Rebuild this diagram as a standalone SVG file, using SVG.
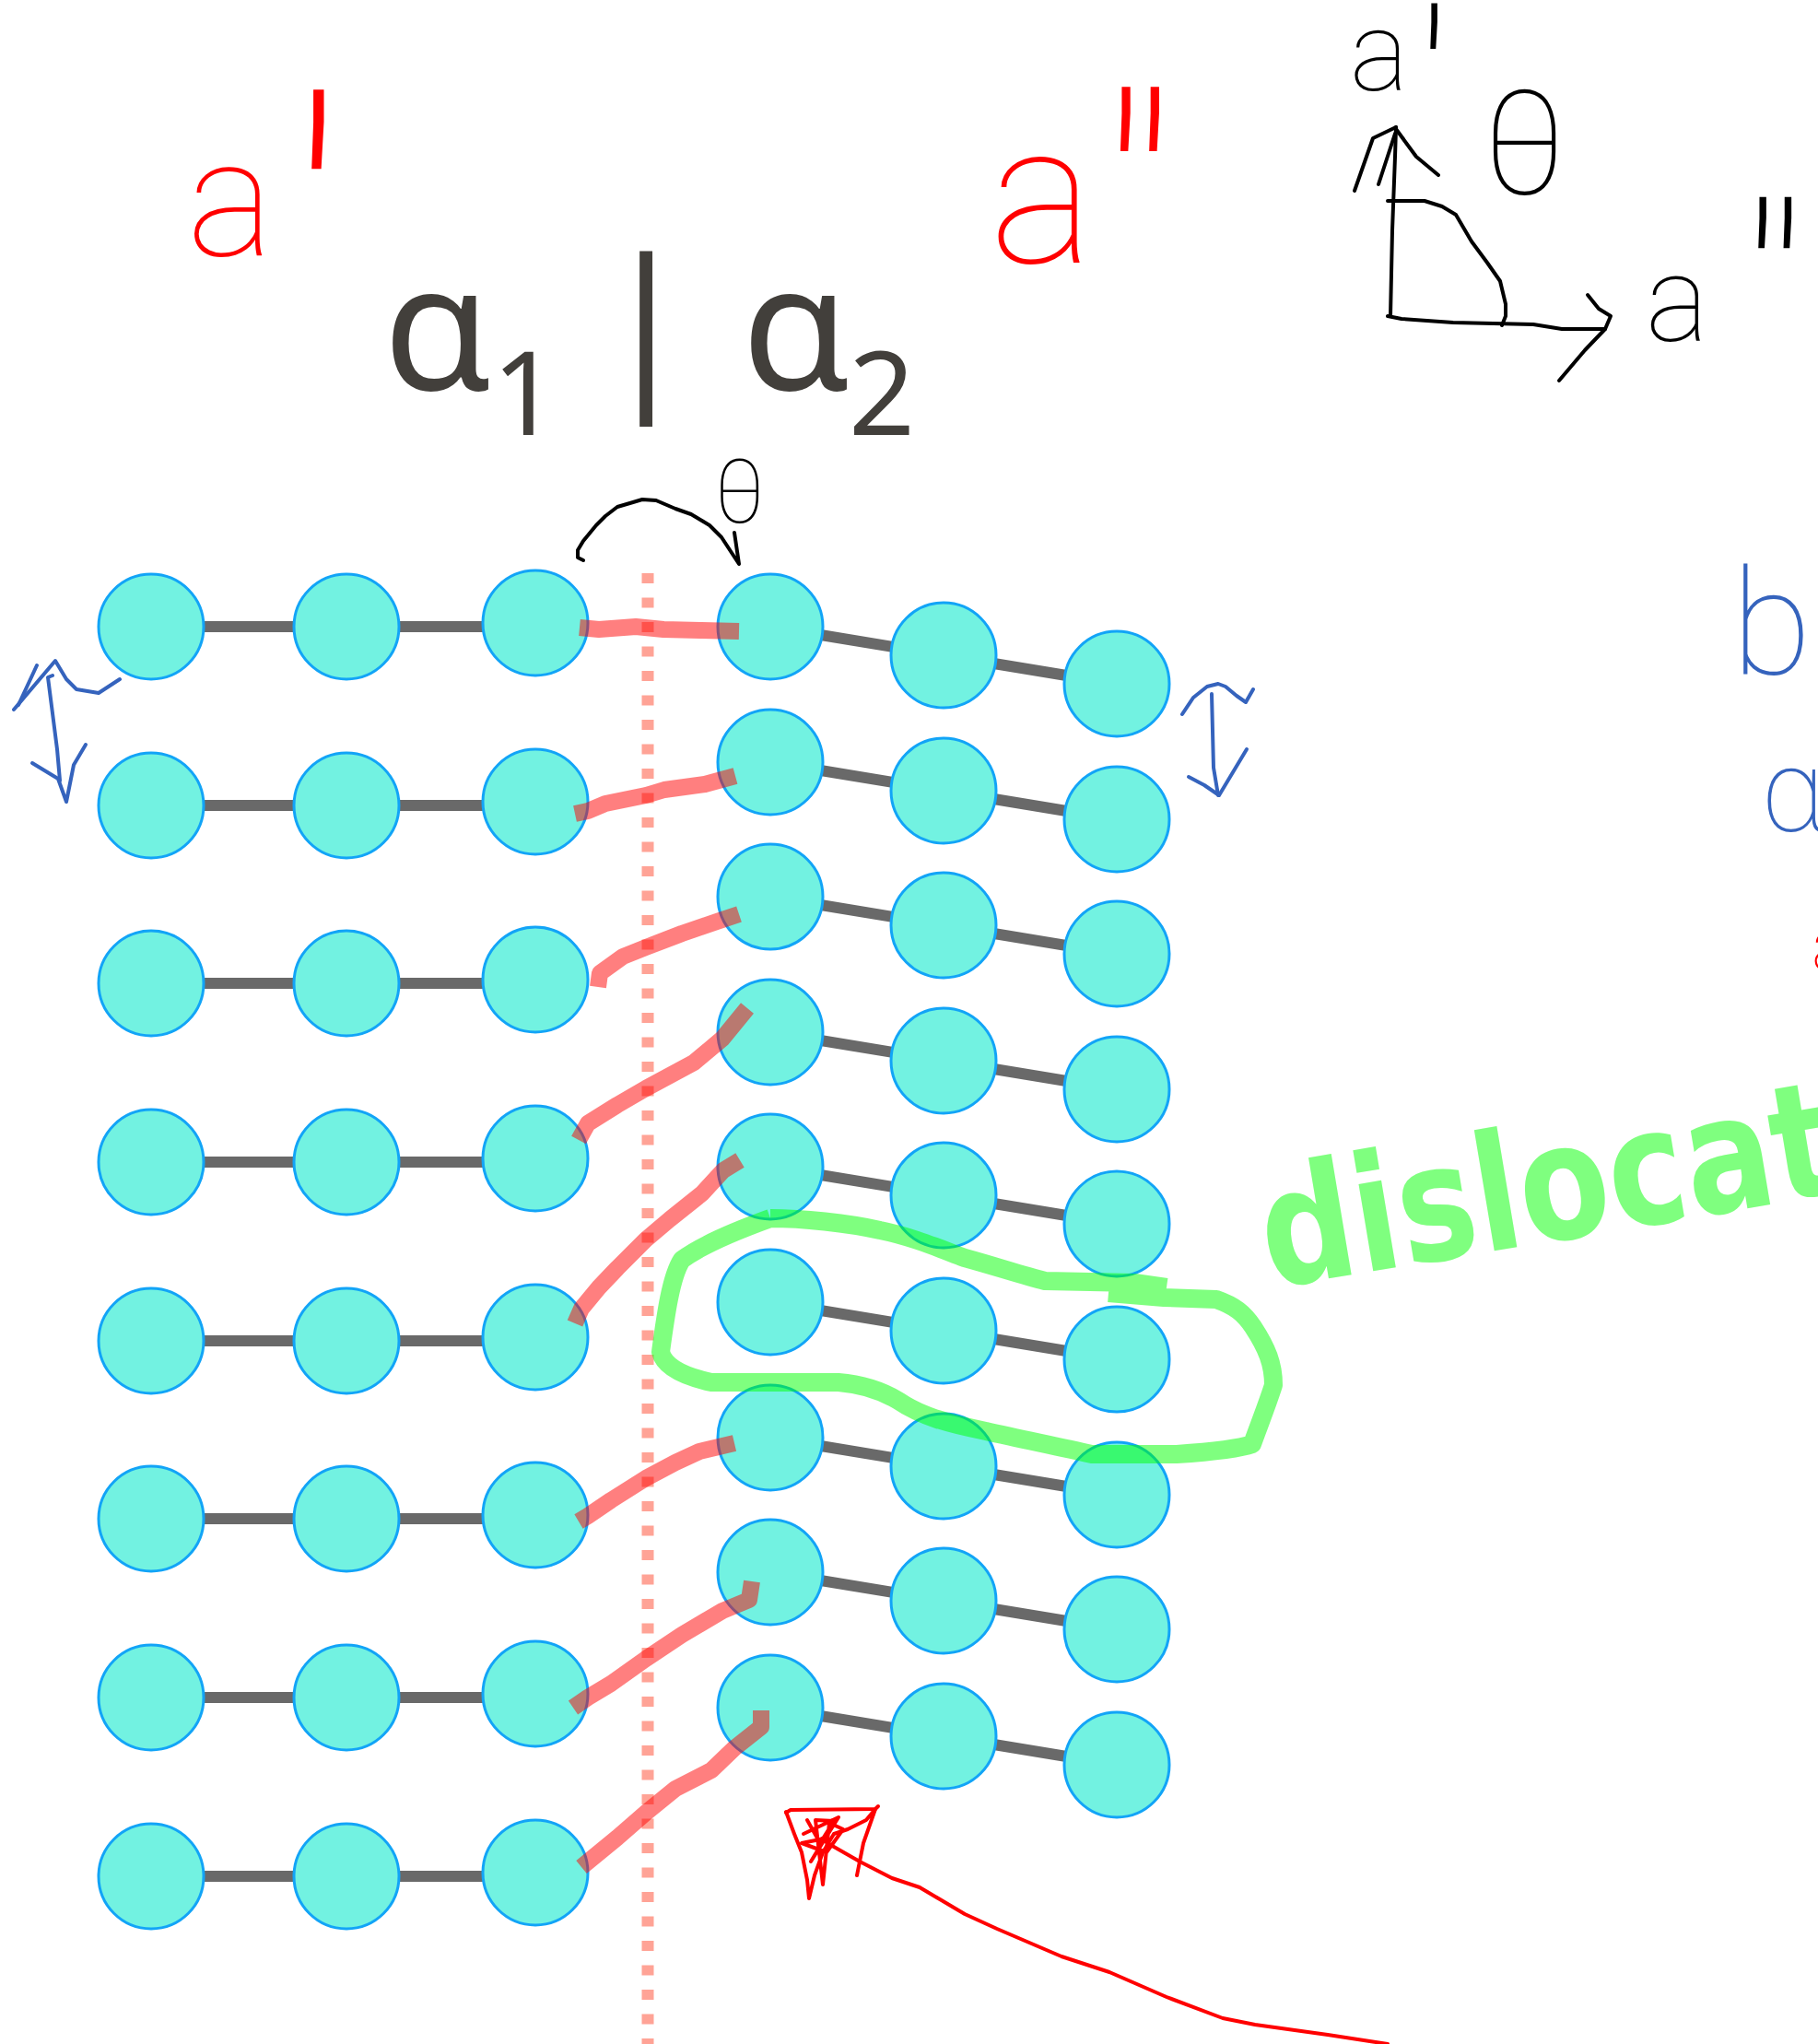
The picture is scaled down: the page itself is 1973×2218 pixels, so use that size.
<svg xmlns="http://www.w3.org/2000/svg" width="1973" height="2218" viewBox="0 0 1973 2218">
<style>
.atom{fill:#72F2E1;stroke:#12A4F7;stroke-width:3}
.bond{stroke:#696969;stroke-width:12;fill:none}
.link{stroke:#FF0000;stroke-opacity:0.5;stroke-width:18;fill:none;stroke-linecap:butt;stroke-linejoin:round}
.title{font-family:"Noto Sans","Open Sans",sans-serif;fill:#423F3B}
.hand{font-family:Roboto,"DejaVu Sans",sans-serif;font-weight:100}
.ink{fill:none;stroke-linecap:round;stroke-linejoin:round}
.blk{stroke:#000;stroke-width:4}
.blu{stroke:#3563BD;stroke-width:4}
.red{stroke:#FF0000;stroke-width:4}
</style>
<rect width="1973" height="2218" fill="#fff"/>

<!-- title -->
<g id="title">
<text class="title" x="475" y="423" font-size="190" text-anchor="middle">α</text>
<text class="title" x="570" y="472" font-size="126" text-anchor="middle">1</text>
<text class="title" x="701" y="417" font-size="190" text-anchor="middle">|</text>
<text class="title" x="864" y="423" font-size="190" text-anchor="middle">α</text>
<text class="title" x="957" y="472" font-size="126" text-anchor="middle">2</text>
</g>

<!-- interface dotted line -->
<line id="interface" x1="703" y1="622" x2="703" y2="2218" stroke="#FFA396" stroke-width="13" stroke-dasharray="11 15.5"/>

<!-- bonds -->
<g id="connectors">
<line class="bond" x1="164" y1="680" x2="581" y2="680"/>
<line class="bond" x1="164" y1="874" x2="581" y2="874"/>
<line class="bond" x1="164" y1="1067" x2="581" y2="1067"/>
<line class="bond" x1="164" y1="1261" x2="581" y2="1261"/>
<line class="bond" x1="164" y1="1455" x2="581" y2="1455"/>
<line class="bond" x1="164" y1="1648" x2="581" y2="1648"/>
<line class="bond" x1="164" y1="1842" x2="581" y2="1842"/>
<line class="bond" x1="164" y1="2036" x2="581" y2="2036"/>
<polyline class="bond" points="836,680 1024,711 1212,742"/>
<polyline class="bond" points="836,827 1024,858 1212,889"/>
<polyline class="bond" points="836,973 1024,1004 1212,1035"/>
<polyline class="bond" points="836,1120 1024,1151 1212,1182"/>
<polyline class="bond" points="836,1266 1024,1297 1212,1328"/>
<polyline class="bond" points="836,1413 1024,1444 1212,1475"/>
<polyline class="bond" points="836,1560 1024,1591 1212,1622"/>
<polyline class="bond" points="836,1706 1024,1737 1212,1768"/>
<polyline class="bond" points="836,1853 1024,1884 1212,1915"/>
</g>

<!-- atoms -->
<g id="nodes">
<g id="L1"><circle class="atom" cx="164" cy="680" r="57"/><circle class="atom" cx="376" cy="680" r="57"/><circle class="atom" cx="581" cy="676" r="57"/></g>
<g id="L2"><circle class="atom" cx="164" cy="874" r="57"/><circle class="atom" cx="376" cy="874" r="57"/><circle class="atom" cx="581" cy="870" r="57"/></g>
<g id="L3"><circle class="atom" cx="164" cy="1067" r="57"/><circle class="atom" cx="376" cy="1067" r="57"/><circle class="atom" cx="581" cy="1063" r="57"/></g>
<g id="L4"><circle class="atom" cx="164" cy="1261" r="57"/><circle class="atom" cx="376" cy="1261" r="57"/><circle class="atom" cx="581" cy="1257" r="57"/></g>
<g id="L5"><circle class="atom" cx="164" cy="1455" r="57"/><circle class="atom" cx="376" cy="1455" r="57"/><circle class="atom" cx="581" cy="1451" r="57"/></g>
<g id="L6"><circle class="atom" cx="164" cy="1648" r="57"/><circle class="atom" cx="376" cy="1648" r="57"/><circle class="atom" cx="581" cy="1644" r="57"/></g>
<g id="L7"><circle class="atom" cx="164" cy="1842" r="57"/><circle class="atom" cx="376" cy="1842" r="57"/><circle class="atom" cx="581" cy="1838" r="57"/></g>
<g id="L8"><circle class="atom" cx="164" cy="2036" r="57"/><circle class="atom" cx="376" cy="2036" r="57"/><circle class="atom" cx="581" cy="2032" r="57"/></g>
<g id="R1"><circle class="atom" cx="836" cy="680" r="57"/><circle class="atom" cx="1024" cy="711" r="57"/><circle class="atom" cx="1212" cy="742" r="57"/></g>
<g id="R2"><circle class="atom" cx="836" cy="827" r="57"/><circle class="atom" cx="1024" cy="858" r="57"/><circle class="atom" cx="1212" cy="889" r="57"/></g>
<g id="R3"><circle class="atom" cx="836" cy="973" r="57"/><circle class="atom" cx="1024" cy="1004" r="57"/><circle class="atom" cx="1212" cy="1035" r="57"/></g>
<g id="R4"><circle class="atom" cx="836" cy="1120" r="57"/><circle class="atom" cx="1024" cy="1151" r="57"/><circle class="atom" cx="1212" cy="1182" r="57"/></g>
<g id="R5"><circle class="atom" cx="836" cy="1266" r="57"/><circle class="atom" cx="1024" cy="1297" r="57"/><circle class="atom" cx="1212" cy="1328" r="57"/></g>
<g id="R6"><circle class="atom" cx="836" cy="1413" r="57"/><circle class="atom" cx="1024" cy="1444" r="57"/><circle class="atom" cx="1212" cy="1475" r="57"/></g>
<g id="R7"><circle class="atom" cx="836" cy="1560" r="57"/><circle class="atom" cx="1024" cy="1591" r="57"/><circle class="atom" cx="1212" cy="1622" r="57"/></g>
<g id="R8"><circle class="atom" cx="836" cy="1706" r="57"/><circle class="atom" cx="1024" cy="1737" r="57"/><circle class="atom" cx="1212" cy="1768" r="57"/></g>
<g id="R9"><circle class="atom" cx="836" cy="1853" r="57"/><circle class="atom" cx="1024" cy="1884" r="57"/><circle class="atom" cx="1212" cy="1915" r="57"/></g>
</g>

<!-- interface links -->
<g id="links">
<polyline class="link" points="629,681 650,683 690,680 720,683 760,684 802,685"/>
<polyline class="link" points="624,883 638,880 657,872 701,863 721,857 765,851 798,842"/>
<polyline class="link" points="649,1071 651,1056 676,1038 701,1028 740,1013 778,1000 802,992"/>
<polyline class="link" points="628,1237 638,1219 670,1199 701,1181 753,1153 784,1127 811,1094"/>
<polyline class="link" points="803,1259 785,1270 762,1295 727,1323 701,1345 670,1376 650,1397 631,1420 624,1436"/>
<polyline class="link" points="628,1651 638,1645 663,1628 701,1604 733,1587 759,1575 797,1566"/>
<polyline class="link" points="622,1853 638,1842 663,1827 701,1800 740,1774 784,1748 813,1736 816,1716"/>
<polyline class="link" points="631,2026 670,1994 701,1967 733,1941 772,1921 797,1897 826,1874 826,1856"/>
</g>

<!-- dislocation loop -->
<path id="loop" d="M 836 1322 C 800 1335 760 1352 740 1367 C 728 1385 722 1430 717 1467 C 720 1480 735 1492 772 1500 L 910 1500 C 935 1502 955 1508 975 1520 C 1000 1537 1030 1545 1070 1553 C 1110 1562 1150 1570 1185 1578 L 1277 1578 C 1320 1575 1345 1572 1359 1567 C 1365 1550 1375 1525 1382 1503 C 1382 1480 1375 1463 1360 1440 C 1350 1425 1340 1417 1320 1410 L 1263 1408 L 1203 1403 M 836 1322 C 870 1322 920 1327 955 1335 C 990 1342 1020 1355 1047 1365 C 1080 1374 1110 1384 1134 1390 L 1231 1392 L 1266 1397" fill="none" stroke="#00FF00" stroke-opacity="0.5" stroke-width="20" stroke-linejoin="round"/>

<!-- angle arc near interface -->
<g id="arc-theta">
<polyline class="ink blk" points="633,608 627,605 627,597 633,587 647,570 657,560 670,550 687,545 697,542 712,543 733,552 750,558 770,570 783,583 802,612 797,578"/>
<text class="hand" x="775" y="567" font-size="96" fill="#000">θ</text>
</g>

<!-- handwritten labels -->
<text id="lbl-a1" class="hand" fill="#FF0000" x="203" y="277" font-size="178" font-weight="300">a<tspan x="310" y="416" font-size="425">'</tspan></text>
<text id="lbl-a2" class="hand" fill="#FF0000" x="1074" y="285" font-size="214">a<tspan x="1193" y="353" font-size="345" letter-spacing="-8">''</tspan></text>

<!-- axes sketch -->
<g id="axes">
<polyline class="ink blk" points="1509,343 1511,250 1514,170 1515,138"/>
<polyline class="ink blk" points="1470,207 1490,150 1515,138"/>
<polyline class="ink blk" points="1515,140 1537,170 1561,190"/>
<polyline class="ink blk" points="1496,200 1514,145"/>
<polyline class="ink blk" points="1506,343 1521,346 1577,350 1664,352 1695,357 1742,357"/>
<polyline class="ink blk" points="1723,320 1735,335 1748,343 1742,357 1720,380 1692,413"/>
<polyline class="ink blk" points="1506,218 1546,218 1565,224 1580,233 1597,262 1614,285 1628,305 1634,330 1634,343 1630,353"/>
<text class="hand" fill="#000" x="1465" y="98" font-size="120">a<tspan x="1536" y="187" font-size="245">'</tspan></text>
<text class="hand" fill="#000" x="1609" y="210" font-size="158">θ</text>
<text class="hand" fill="#000" x="1786" y="370" font-size="129">a<tspan x="1890" y="420" font-size="275" letter-spacing="-4">''</tspan></text>
</g>

<!-- blue arrows -->
<g id="arrow-left">
<polyline class="ink blu" points="15,770 60,717 72,737 83,748 107,752 130,737"/>
<polyline class="ink blu" points="40,722 20,765"/>
<polyline class="ink blu" points="57,733 52,735 62,813 65,847"/>
<polyline class="ink blu" points="35,828 63,845 72,870 80,830 93,808"/>
</g>
<g id="arrow-right">
<polyline class="ink blu" points="1283,775 1295,757 1310,745 1322,742 1330,745 1342,755 1352,762 1360,748"/>
<polyline class="ink blu" points="1315,753 1317,833 1322,863"/>
<polyline class="ink blu" points="1290,843 1307,852 1323,863 1335,843 1353,813"/>
</g>

<!-- right edge labels -->
<text class="hand" fill="#3563BD" x="1879" y="731" font-size="159" font-weight="300">b</text>
<text class="hand" fill="#3563BD" x="1911" y="902" font-size="127" font-weight="300">α</text>
<text class="hand" fill="#FF0000" x="1966" y="1053" font-size="80" font-weight="400">a</text>

<!-- dislocation label -->
<text id="lbl-dislocat" x="1378" y="1398" font-family="DejaVu Sans, sans-serif" font-weight="bold" font-size="175" fill="#00FF00" fill-opacity="0.5" textLength="630" lengthAdjust="spacingAndGlyphs" transform="rotate(-9.5 1378 1398)">dislocat</text>

<!-- red pointer -->
<g id="pointer">
<polyline class="ink red" points="853,1967 858,1964 950,1963 953,1960"/>
<polyline class="ink red" stroke-width="3" points="853,1966 862,1990 870,2010 876,2040 878,2060 884,2035 893,2010 905,1990 920,1985 940,1975 950,1963 937,2000 930,2035"/>
<polyline class="ink red" stroke-width="3" points="876,1975 890,2000 905,1976 885,1975 893,2045 900,1978 915,1985 897,2010 870,2000 895,1995 880,2020 910,1972 872,1990"/>
<polyline class="ink red" points="892,1995 898,2000 933,2020 968,2038 998,2048 1047,2077 1082,2093 1152,2123 1204,2140 1266,2167 1327,2190 1362,2197 1441,2208 1506,2218"/>
</g>
</svg>
